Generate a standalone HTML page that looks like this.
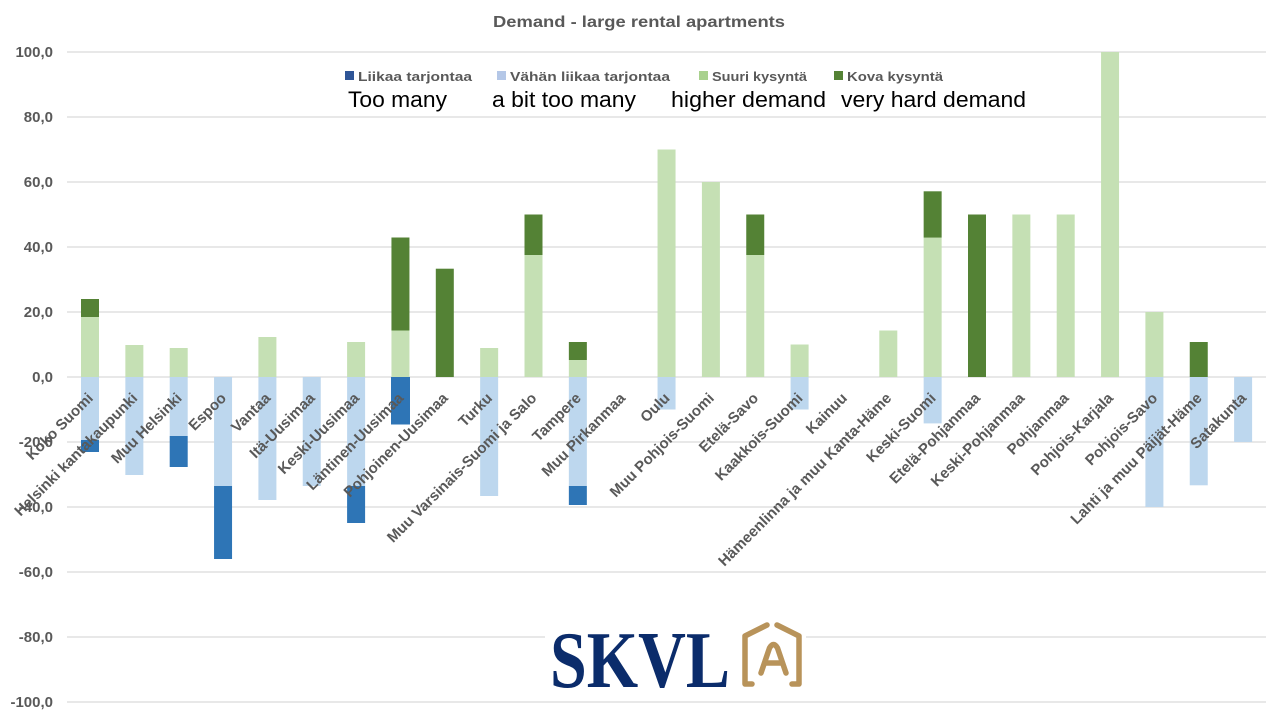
<!DOCTYPE html>
<html>
<head>
<meta charset="utf-8">
<style>
html,body{margin:0;padding:0;background:#fff;}
svg{display:block;}
</style>
</head>
<body>
<svg width="1280" height="720" viewBox="0 0 1280 720" xmlns="http://www.w3.org/2000/svg">
<rect x="0" y="0" width="1280" height="720" fill="#ffffff"/>

<!-- Title -->
<text x="493" y="27" font-family="Liberation Sans, sans-serif" font-weight="bold" font-size="16" fill="#595959" textLength="292" lengthAdjust="spacingAndGlyphs">Demand - large rental apartments</text>

<!-- Gridlines -->
<g stroke="#D9D9D9" stroke-width="1.2">
<line x1="67" y1="52" x2="1266" y2="52"/>
<line x1="67" y1="117" x2="1266" y2="117"/>
<line x1="67" y1="182" x2="1266" y2="182"/>
<line x1="67" y1="247" x2="1266" y2="247"/>
<line x1="67" y1="312" x2="1266" y2="312"/>
<line x1="67" y1="377" x2="1266" y2="377"/>
<line x1="67" y1="442" x2="1266" y2="442"/>
<line x1="67" y1="507" x2="1266" y2="507"/>
<line x1="67" y1="572" x2="1266" y2="572"/>
<line x1="67" y1="637" x2="1266" y2="637"/>
<line x1="67" y1="702" x2="1266" y2="702"/>
</g>

<!-- Y axis labels -->
<g font-family="Liberation Sans, sans-serif" font-weight="bold" font-size="15" fill="#595959" text-anchor="end">
<text x="53" y="57">100,0</text>
<text x="53" y="122">80,0</text>
<text x="53" y="187">60,0</text>
<text x="53" y="252">40,0</text>
<text x="53" y="317">20,0</text>
<text x="53" y="382">0,0</text>
<text x="53" y="447">-20,0</text>
<text x="53" y="512">-40,0</text>
<text x="53" y="577">-60,0</text>
<text x="53" y="642">-80,0</text>
<text x="53" y="707">-100,0</text>
</g>

<!-- Legend -->
<g font-family="Liberation Sans, sans-serif" font-weight="bold" font-size="13" fill="#595959">
<rect x="345" y="71" width="9" height="9" fill="#2F5597"/>
<text x="358" y="81" textLength="114" lengthAdjust="spacingAndGlyphs">Liikaa tarjontaa</text>
<rect x="497" y="71" width="9" height="9" fill="#B4C7E7"/>
<text x="510" y="81" textLength="160" lengthAdjust="spacingAndGlyphs">Vähän liikaa tarjontaa</text>
<rect x="699" y="71" width="9" height="9" fill="#A9D18E"/>
<text x="712" y="81" textLength="95" lengthAdjust="spacingAndGlyphs">Suuri kysyntä</text>
<rect x="834" y="71" width="9" height="9" fill="#548235"/>
<text x="847" y="81" textLength="96" lengthAdjust="spacingAndGlyphs">Kova kysyntä</text>
</g>
<g font-family="Liberation Sans, sans-serif" font-size="22" fill="#000000">
<text x="348" y="107" textLength="99" lengthAdjust="spacingAndGlyphs">Too many</text>
<text x="492" y="107" textLength="144" lengthAdjust="spacingAndGlyphs">a bit too many</text>
<text x="671" y="107" textLength="155" lengthAdjust="spacingAndGlyphs">higher demand</text>
<text x="841" y="107" textLength="185" lengthAdjust="spacingAndGlyphs">very hard demand</text>
</g>

<!-- Bars -->
<g>
<rect x="81" y="317" width="18" height="60" fill="#C5E0B4"/>
<rect x="81" y="299" width="18" height="18" fill="#548235"/>
<rect x="81" y="377" width="18" height="63" fill="#BDD7EE"/>
<rect x="81" y="440" width="18" height="12" fill="#2E75B6"/>
<rect x="125.35" y="345" width="18" height="32" fill="#C5E0B4"/>
<rect x="125.35" y="377" width="18" height="98" fill="#BDD7EE"/>
<rect x="169.7" y="348" width="18" height="29" fill="#C5E0B4"/>
<rect x="169.7" y="377" width="18" height="59" fill="#BDD7EE"/>
<rect x="169.7" y="436" width="18" height="31" fill="#2E75B6"/>
<rect x="214.05" y="377" width="18" height="109" fill="#BDD7EE"/>
<rect x="214.05" y="486" width="18" height="73" fill="#2E75B6"/>
<rect x="258.4" y="337" width="18" height="40" fill="#C5E0B4"/>
<rect x="258.4" y="377" width="18" height="123" fill="#BDD7EE"/>
<rect x="302.75" y="377" width="18" height="109" fill="#BDD7EE"/>
<rect x="347.1" y="342" width="18" height="35" fill="#C5E0B4"/>
<rect x="347.1" y="377" width="18" height="109" fill="#BDD7EE"/>
<rect x="347.1" y="486" width="18" height="37" fill="#2E75B6"/>
<rect x="391.45" y="330.5" width="18" height="46.5" fill="#C5E0B4"/>
<rect x="391.45" y="237.5" width="18" height="93" fill="#548235"/>
<rect x="391" y="377" width="19" height="47.5" fill="#2E75B6"/>
<rect x="435.8" y="268.7" width="18" height="108.3" fill="#548235"/>
<rect x="480.15" y="348" width="18" height="29" fill="#C5E0B4"/>
<rect x="480.15" y="377" width="18" height="119" fill="#BDD7EE"/>
<rect x="524.5" y="255" width="18" height="122" fill="#C5E0B4"/>
<rect x="524.5" y="214.5" width="18" height="40.5" fill="#548235"/>
<rect x="568.85" y="360" width="18" height="17" fill="#C5E0B4"/>
<rect x="568.85" y="342" width="18" height="18" fill="#548235"/>
<rect x="568.85" y="377" width="18" height="109" fill="#BDD7EE"/>
<rect x="568.85" y="486" width="18" height="19" fill="#2E75B6"/>
<rect x="657.55" y="149.5" width="18" height="227.5" fill="#C5E0B4"/>
<rect x="657.55" y="377" width="18" height="32.5" fill="#BDD7EE"/>
<rect x="701.9" y="182" width="18" height="195" fill="#C5E0B4"/>
<rect x="746.25" y="255" width="18" height="122" fill="#C5E0B4"/>
<rect x="746.25" y="214.5" width="18" height="40.5" fill="#548235"/>
<rect x="790.6" y="344.5" width="18" height="32.5" fill="#C5E0B4"/>
<rect x="790.6" y="377" width="18" height="32.5" fill="#BDD7EE"/>
<rect x="879.3" y="330.5" width="18" height="46.5" fill="#C5E0B4"/>
<rect x="923.65" y="237.6" width="18" height="139.4" fill="#C5E0B4"/>
<rect x="923.65" y="191.3" width="18" height="46.3" fill="#548235"/>
<rect x="923.65" y="377" width="18" height="46.4" fill="#BDD7EE"/>
<rect x="968" y="214.5" width="18" height="162.5" fill="#548235"/>
<rect x="1012.35" y="214.5" width="18" height="162.5" fill="#C5E0B4"/>
<rect x="1056.7" y="214.5" width="18" height="162.5" fill="#C5E0B4"/>
<rect x="1101.05" y="52" width="18" height="325" fill="#C5E0B4"/>
<rect x="1145.4" y="312" width="18" height="65" fill="#C5E0B4"/>
<rect x="1145.4" y="377" width="18" height="130" fill="#BDD7EE"/>
<rect x="1189.75" y="342" width="18" height="35" fill="#548235"/>
<rect x="1189.75" y="377" width="18" height="108.3" fill="#BDD7EE"/>
<rect x="1234.1" y="377" width="18" height="65" fill="#BDD7EE"/>
</g>

<!-- Category labels -->
<g font-family="Liberation Sans, sans-serif" font-weight="bold" font-size="15" fill="#595959" text-anchor="end">
<text transform="translate(94,399) rotate(-45)">Koko Suomi</text>
<text transform="translate(138.35,399) rotate(-45)">Helsinki kantakaupunki</text>
<text transform="translate(182.7,399) rotate(-45)">Muu Helsinki</text>
<text transform="translate(227.05,399) rotate(-45)">Espoo</text>
<text transform="translate(271.4,399) rotate(-45)">Vantaa</text>
<text transform="translate(315.75,399) rotate(-45)">Itä-Uusimaa</text>
<text transform="translate(360.1,399) rotate(-45)">Keski-Uusimaa</text>
<text transform="translate(404.45,399) rotate(-45)">Läntinen-Uusimaa</text>
<text transform="translate(448.8,399) rotate(-45)">Pohjoinen-Uusimaa</text>
<text transform="translate(493.15,399) rotate(-45)">Turku</text>
<text transform="translate(537.5,399) rotate(-45)">Muu Varsinais-Suomi ja Salo</text>
<text transform="translate(581.85,399) rotate(-45)">Tampere</text>
<text transform="translate(626.2,399) rotate(-45)">Muu Pirkanmaa</text>
<text transform="translate(670.55,399) rotate(-45)">Oulu</text>
<text transform="translate(714.9,399) rotate(-45)">Muu Pohjois-Suomi</text>
<text transform="translate(759.25,399) rotate(-45)">Etelä-Savo</text>
<text transform="translate(803.6,399) rotate(-45)">Kaakkois-Suomi</text>
<text transform="translate(847.95,399) rotate(-45)">Kainuu</text>
<text transform="translate(892.3,399) rotate(-45)">Hämeenlinna ja muu Kanta-Häme</text>
<text transform="translate(936.65,399) rotate(-45)">Keski-Suomi</text>
<text transform="translate(981,399) rotate(-45)">Etelä-Pohjanmaa</text>
<text transform="translate(1025.35,399) rotate(-45)">Keski-Pohjanmaa</text>
<text transform="translate(1069.7,399) rotate(-45)">Pohjanmaa</text>
<text transform="translate(1114.05,399) rotate(-45)">Pohjois-Karjala</text>
<text transform="translate(1158.4,399) rotate(-45)">Pohjois-Savo</text>
<text transform="translate(1202.75,399) rotate(-45)">Lahti ja muu Päijät-Häme</text>
<text transform="translate(1247.1,399) rotate(-45)">Satakunta</text>
</g>

<!-- Logo -->
<rect x="545" y="616" width="261" height="80" fill="#ffffff"/>
<text x="550" y="687" font-family="Liberation Serif, serif" font-weight="bold" font-size="80" fill="#0B2C6B" textLength="180" lengthAdjust="spacingAndGlyphs">SKVL</text>
<g fill="none" stroke="#B8935A" stroke-width="5.5" stroke-linecap="round" stroke-linejoin="round">
<path d="M752 684 L745 684 L745 636 L767 625"/>
<path d="M777 625 L799 636 L799 684 L792 684"/>
<path d="M761 673 L769.5 648 Q773.5 641 777.5 648 L786 673"/>
<path d="M765.5 663 L781.5 663"/>
</g>
</svg>
</body>
</html>
